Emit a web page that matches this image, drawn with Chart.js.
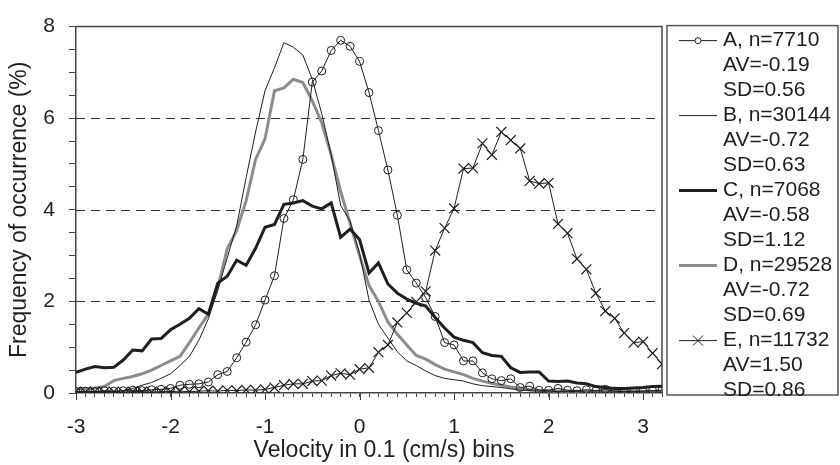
<!DOCTYPE html>
<html><head><meta charset="utf-8">
<script src="https://cdn.jsdelivr.net/npm/chart.js@4.4.1/dist/chart.umd.min.js"></script>
<style>html,body{margin:0;padding:0;background:#fff;}canvas{display:block;}</style>
</head><body>
<canvas id="c" width="840" height="465"></canvas>
<script>
// Velocity bins (0.1 cm/s)
const bins = [-3.0,-2.9,-2.8,-2.7,-2.6,-2.5,-2.4,-2.3,-2.2,-2.1,
  -2.0,-1.9,-1.8,-1.7,-1.6,-1.5,-1.4,-1.3,-1.2,-1.1,
  -1.0,-0.9,-0.8,-0.7,-0.6,-0.5,-0.4,-0.3,-0.2,-0.1,
  0.0,0.1,0.2,0.3,0.4,0.5,0.6,0.7,0.8,0.9,
  1.0,1.1,1.2,1.3,1.4,1.5,1.6,1.7,1.8,1.9,
  2.0,2.1,2.2,2.3,2.4,2.5,2.6,2.7,2.8,2.9,
  3.0,3.1,3.2];

const seriesA = [0.03,0.04,0.03,0.05,0.04,0.05,0.06,0.05,0.07,0.08,
  0.10,0.17,0.19,0.20,0.24,0.40,0.47,0.77,1.11,1.49,
  2.03,2.56,3.81,4.22,5.10,6.79,7.03,7.48,7.70,7.57,
  7.24,6.56,5.73,4.87,3.88,2.69,2.40,2.08,1.67,1.10,
  1.05,0.70,0.70,0.44,0.31,0.27,0.31,0.12,0.15,0.06,
  0.06,0.10,0.06,0.05,0.07,0.05,0.08,0.04,0.03,0.03,
  0.04,0.05,0.06];

const seriesB = [0.02,0.02,0.02,0.03,0.03,0.05,0.10,0.17,0.23,0.32,
  0.42,0.60,0.80,1.15,1.62,2.25,2.95,3.65,4.70,5.70,
  6.60,7.10,7.65,7.55,7.38,6.85,6.10,5.20,4.10,3.75,
  3.05,2.03,1.50,1.20,0.90,0.70,0.60,0.48,0.38,0.32,
  0.29,0.26,0.20,0.16,0.14,0.12,0.09,0.06,0.05,0.04,
  0.04,0.03,0.03,0.03,0.02,0.02,0.02,0.02,0.02,0.02,
  0.02,0.02,0.02];

const seriesC = [0.45,0.52,0.58,0.55,0.56,0.72,0.94,0.92,1.18,1.19,
  1.38,1.50,1.63,1.84,1.72,2.40,2.55,2.90,2.79,3.16,
  3.62,3.68,4.12,4.15,4.20,4.08,4.02,4.15,3.40,3.58,
  3.35,2.62,2.84,2.38,2.18,2.05,1.96,1.90,1.65,1.42,
  1.22,1.15,1.10,0.88,0.82,0.80,0.55,0.45,0.46,0.46,
  0.26,0.25,0.26,0.22,0.20,0.14,0.12,0.10,0.10,0.11,
  0.12,0.14,0.15];

const seriesD = [0.10,0.10,0.11,0.14,0.27,0.32,0.36,0.42,0.50,0.60,
  0.70,0.80,1.10,1.42,1.72,2.30,3.15,3.55,4.20,5.10,
  5.55,6.60,6.66,6.85,6.78,6.38,5.90,5.20,4.40,3.70,
  3.00,2.35,2.00,1.55,1.28,1.05,0.82,0.74,0.62,0.52,
  0.46,0.40,0.32,0.26,0.21,0.17,0.13,0.10,0.07,0.06,
  0.05,0.04,0.04,0.04,0.04,0.04,0.04,0.04,0.04,0.04,
  0.04,0.04,0.04];

const seriesE = [0.03,0.02,0.03,0.02,0.03,0.02,0.03,0.03,0.02,0.03,
  0.03,0.04,0.03,0.04,0.05,0.04,0.06,0.05,0.07,0.06,
  0.08,0.12,0.17,0.20,0.20,0.26,0.27,0.38,0.43,0.40,
  0.52,0.55,0.89,1.05,1.54,1.75,1.99,2.22,3.11,3.60,
  4.03,4.90,4.91,5.45,5.20,5.70,5.52,5.34,4.63,4.57,
  4.59,3.69,3.49,2.93,2.70,2.18,1.79,1.63,1.31,1.10,
  1.12,0.87,0.63];

const seriesNames = ['A','B','C','D','E'];
const seriesN = ['7710','30144','7068','29528','11732'];
const seriesAV = ['-0.19','-0.72','-0.58','-0.72','1.50'];
const seriesSD = ['0.56','0.63','1.12','0.69','0.86'];
const xTickLabels = [-3,-2,-1,0,1,2,3];
const yTickLabels = [0,2,4,6,8];
const yGridDashed = [2,4,6];
const xTitle = 'Velocity in 0.1 (cm/s) bins';
const yTitle = 'Frequency of occurrence (%)';

const FONT = '"Liberation Sans", Arial, sans-serif';
const INK = '#1e1e1e';
const toPts = arr => arr.map((v, i) => ({x: bins[i], y: v}));

const datasets = [
  {label: seriesNames[0], data: toPts(seriesA), borderColor: INK, borderWidth: 1, pointStyle: 'circle', pointRadius: 4, pointBorderWidth: 1, pointBorderColor: INK, pointBackgroundColor: 'rgba(255,255,255,0)', order: 1},
  {label: seriesNames[1], data: toPts(seriesB), borderColor: INK, borderWidth: 1, pointRadius: 0, order: 3},
  {label: seriesNames[2], data: toPts(seriesC), borderColor: INK, borderWidth: 3, pointRadius: 0, order: 4},
  {label: seriesNames[3], data: toPts(seriesD), borderColor: '#8c8c8c', borderWidth: 3, pointRadius: 0, order: 5},
  {label: seriesNames[4], data: toPts(seriesE), borderColor: INK, borderWidth: 1, pointStyle: 'crossRot', pointRadius: 7, pointBorderWidth: 1.2, pointBorderColor: INK, order: 2}
];

const isInt = v => Math.abs(v - Math.round(v)) < 1e-6;

const framePlugin = {
  id: 'frame',
  beforeDatasetsDraw(chart) {
    const {ctx, chartArea: ca, scales: {x, y}} = chart;
    ctx.save();
    ctx.strokeStyle = '#333';
    ctx.lineWidth = 1;
    ctx.setLineDash([9, 6]);
    yGridDashed.forEach(v => {
      const py = Math.round(y.getPixelForValue(v)) + 0.5;
      ctx.beginPath(); ctx.moveTo(ca.left, py); ctx.lineTo(ca.right, py); ctx.stroke();
    });
    ctx.setLineDash([]);
    // longer major ticks on the x axis
    ctx.strokeStyle = '#444';
    ctx.lineWidth = 1;
    xTickLabels.forEach(v => {
      const px = Math.round(x.getPixelForValue(v)) + 0.5;
      ctx.beginPath(); ctx.moveTo(px, ca.bottom); ctx.lineTo(px, ca.bottom + 7); ctx.stroke();
    });
    ctx.lineWidth = 1.5;
    ctx.beginPath();
    ctx.moveTo(ca.left, ca.top); ctx.lineTo(ca.right, ca.top); ctx.lineTo(ca.right, ca.bottom);
    ctx.stroke();
    // x axis title (offset right of the plot centre, as in the original)
    ctx.font = '23px ' + FONT;
    ctx.fillStyle = INK; ctx.textAlign = 'center'; ctx.textBaseline = 'middle';
    ctx.fillText(xTitle, (ca.left + ca.right) / 2 + 15, ca.bottom + 58);
    ctx.restore();
  }
};

const legendPlugin = {
  id: 'boxLegend',
  afterDraw(chart) {
    const {ctx, chartArea: ca} = chart;
    const x0 = ca.right + 5, y0 = ca.top - 1;
    const w = chart.width - x0 - 2, h = ca.bottom - ca.top + 3;
    ctx.save();
    ctx.strokeStyle = '#555'; ctx.lineWidth = 1.5;
    ctx.strokeRect(x0, y0, w, h);
    ctx.font = '21px ' + FONT;
    ctx.fillStyle = INK; ctx.textBaseline = 'middle'; ctx.textAlign = 'left';
    const lh = 25;
    chart.data.datasets.forEach((ds, i) => {
      const y = y0 + 15 + i * 3 * lh;
      ctx.strokeStyle = ds.borderColor; ctx.lineWidth = ds.borderWidth;
      ctx.beginPath(); ctx.moveTo(x0 + 12, y); ctx.lineTo(x0 + 50, y); ctx.stroke();
      const cx = x0 + 31;
      ctx.lineWidth = 1; ctx.strokeStyle = INK;
      if (ds.pointStyle === 'circle') {
        ctx.beginPath(); ctx.arc(cx, y, 3, 0, Math.PI * 2); ctx.fillStyle = '#fff'; ctx.fill(); ctx.stroke();
      } else if (ds.pointStyle === 'crossRot') {
        ctx.beginPath(); ctx.moveTo(cx - 5, y - 5); ctx.lineTo(cx + 5, y + 5);
        ctx.moveTo(cx - 5, y + 5); ctx.lineTo(cx + 5, y - 5); ctx.stroke();
      }
      ctx.fillStyle = INK;
      const tx = x0 + 56;
      ctx.fillText(seriesNames[i] + ', n=' + seriesN[i], tx, y);
      ctx.fillText('AV=' + seriesAV[i], tx, y + lh);
      ctx.fillText('SD=' + seriesSD[i], tx, y + 2 * lh);
    });
    ctx.restore();
  }
};

new Chart(document.getElementById('c'), {
  type: 'line',
  data: {datasets},
  options: {
    responsive: false,
    animation: false,
    devicePixelRatio: 1,
    layout: {padding: {left: 0, right: 178, top: 14, bottom: 0}},
    elements: {line: {tension: 0, fill: false}},
    plugins: {legend: {display: false}, tooltip: {enabled: false}},
    scales: {
      x: {
        type: 'linear', min: -3, max: 3.2,
        afterFit: s => { s.height = 72; },
        grid: {drawOnChartArea: false, drawTicks: true, tickLength: 4, color: '#444'},
        border: {display: true, color: '#444', width: 1.5},
        ticks: {
          stepSize: 0.1, autoSkip: false, maxRotation: 0, padding: 18,
          color: INK, font: {family: FONT, size: 21},
          callback: v => (isInt(v) && xTickLabels.includes(Math.round(v))) ? String(Math.round(v)) : ''
        },
        title: {display: false}
      },
      y: {
        min: 0, max: 8,
        afterFit: s => { s.width = 76; },
        grid: {drawOnChartArea: false, drawTicks: true, tickLength: 7, color: '#444'},
        border: {display: true, color: '#444', width: 1.5},
        ticks: {
          stepSize: 0.5, autoSkip: false, padding: 14,
          color: INK, font: {family: FONT, size: 21},
          callback: v => (isInt(v) && yTickLabels.includes(Math.round(v))) ? String(Math.round(v)) : ''
        },
        title: {display: true, text: yTitle, color: INK, font: {family: FONT, size: 23}, padding: {top: 6, bottom: 0}}
      }
    }
  },
  plugins: [framePlugin, legendPlugin]
});
</script>
</body></html>
